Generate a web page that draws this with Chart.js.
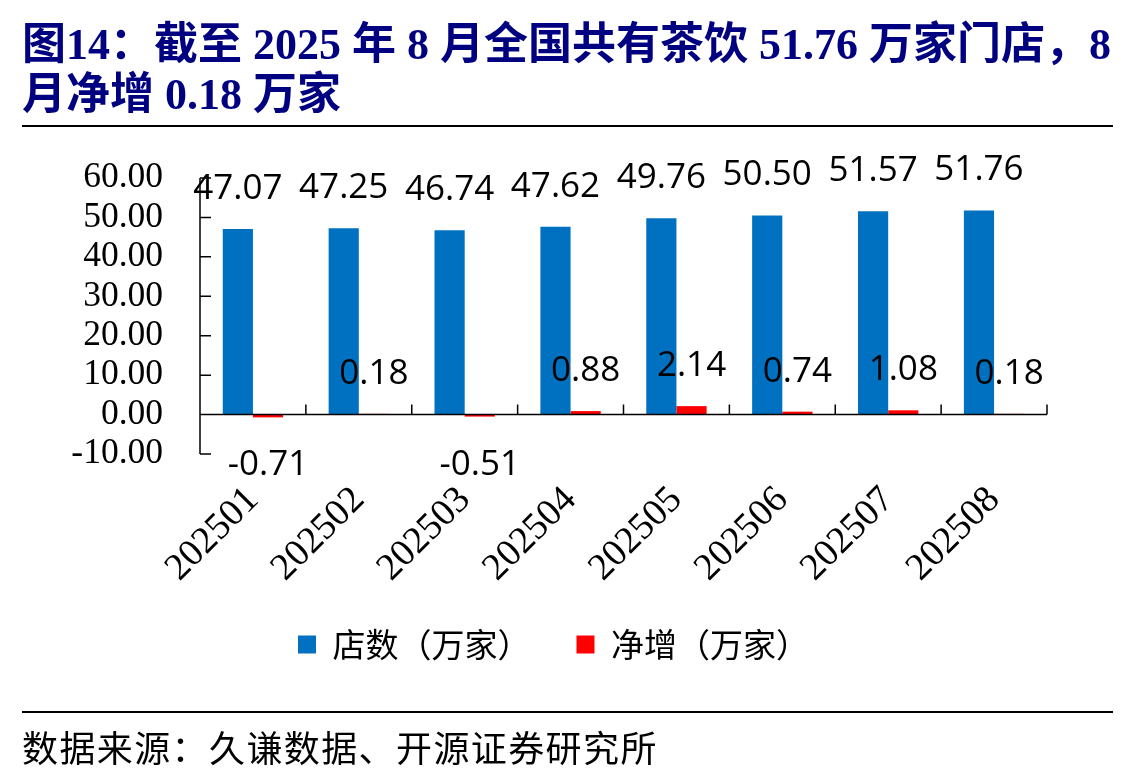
<!DOCTYPE html>
<html><head><meta charset="utf-8">
<script src="https://cdn.jsdelivr.net/npm/chart.js@4"></script>
<style>
html,body{margin:0;padding:0;background:#fff;}
#wrap{position:relative;width:1137px;height:778px;overflow:hidden;background:#fff;}
#c{position:absolute;left:0;top:0;}
.title{position:absolute;left:22px;top:20px;font:bold 44px/50px "Liberation Serif","Noto Sans CJK SC";color:#000080;white-space:nowrap;}
.rule{position:absolute;left:22px;width:1091px;height:2px;background:#000;}
.src{position:absolute;left:22px;top:726px;font:36px/40px "Noto Sans CJK SC";letter-spacing:1.4px;white-space:nowrap;color:#000;}
</style></head>
<body><div id="wrap">
<canvas id="c" width="1137" height="778"></canvas>
<div class="title">图14：截至 2025 年 8 月全国共有茶饮 51.76 万家门店，8<br>月净增 0.18 万家</div>
<div class="rule" style="top:125px"></div>
<div class="rule" style="top:711px"></div>
<div class="src">数据来源：久谦数据、开源证券研究所</div>
</div>
<script>
const categories = ['202501','202502','202503','202504','202505','202506','202507','202508'];
const storeCounts = [47.07, 47.25, 46.74, 47.62, 49.76, 50.50, 51.57, 51.76];
const netAdds = [-0.71, 0.18, -0.51, 0.88, 2.14, 0.74, 1.08, 0.18];
const yTicks = [-10, 0, 10, 20, 30, 40, 50, 60];
const seriesNames = ['店数（万家）', '净增（万家）'];
const seriesColors = ['#0070C0', '#FF0000'];

const axisLines = {
  id: 'axisLines',
  afterDatasetsDraw(chart) {
    const {ctx, chartArea: a, scales: {x, y}} = chart;
    ctx.save();
    ctx.strokeStyle = '#000';
    ctx.lineWidth = 1.5;
    ctx.beginPath();
    ctx.moveTo(a.left, y.getPixelForValue(y.max));
    ctx.lineTo(a.left, y.getPixelForValue(y.min));
    y.ticks.forEach(t => {
      const py = y.getPixelForValue(t.value);
      ctx.moveTo(a.left, py); ctx.lineTo(a.left + 11, py);
    });
    const y0 = y.getPixelForValue(0);
    ctx.moveTo(a.left, y0); ctx.lineTo(a.right, y0);
    const n = x.ticks.length;
    for (let i = 0; i < n; i++) {
      const px = i < n - 1 ? (x.getPixelForTick(i) + x.getPixelForTick(i + 1)) / 2 : a.right;
      ctx.moveTo(px, y0); ctx.lineTo(px, y0 - 10);
    }
    ctx.stroke();
    ctx.restore();
  }
};

const valueLabels = {
  id: 'valueLabels',
  afterDraw(chart) {
    const ctx = chart.ctx;
    ctx.save();
    ctx.font = '35px "Open Sans"';
    ctx.fillStyle = '#000';
    ctx.textAlign = 'center';
    ctx.textBaseline = 'alphabetic';
    chart.data.datasets.forEach((ds, di) => {
      chart.getDatasetMeta(di).data.forEach((bar, i) => {
        const v = ds.data[i];
        const txt = v.toFixed(2);
        if (v >= 0) ctx.fillText(txt, bar.x, bar.y - 30);
        else ctx.fillText(txt, bar.x, bar.y + 58);
      });
    });
    ctx.restore();
  }
};

const L = 60;
new Chart(document.getElementById('c'), {
  type: 'bar',
  data: {
    labels: categories,
    datasets: [
      {label: seriesNames[0], data: storeCounts, backgroundColor: seriesColors[0], categoryPercentage: 0.57, barPercentage: 1},
      {label: seriesNames[1], data: netAdds, backgroundColor: seriesColors[1], categoryPercentage: 0.57, barPercentage: 1}
    ]
  },
  options: {
    responsive: false,
    animation: false,
    layout: {padding: {left: L, right: 90, top: 178, bottom: 107}},
    plugins: {
      legend: {
        position: 'bottom',
        labels: {boxWidth: 18, boxHeight: 18, padding: 46, color: '#000',
          font: {family: '"Noto Sans CJK SC"', size: 33}}
      },
      tooltip: {enabled: false}
    },
    scales: {
      x: {
        grid: {display: false, drawTicks: false},
        border: {display: false},
        ticks: {minRotation: 45, maxRotation: 45, autoSkip: false, padding: 24, color: '#000',
          font: {family: '"Liberation Serif"', size: 38}},
        afterFit(s) {
          s.height = 128;
          // let the rotated labels run past the axis box, as in the original
          s._computeLabelArea = () => undefined;
        }
      },
      y: {
        min: -10, max: 60,
        grid: {display: false, drawTicks: false},
        border: {display: false},
        afterBuildTicks(s) { s.ticks = yTicks.map(v => ({value: v})); },
        ticks: {autoSkip: false, padding: 37, color: '#000', callback: v => Number(v).toFixed(2),
          font: {family: '"Liberation Serif"', size: 35.5}},
        afterFit(s) { s.width = 200 - L; }
      }
    }
  },
  plugins: [axisLines, valueLabels]
});
</script>
</body></html>
